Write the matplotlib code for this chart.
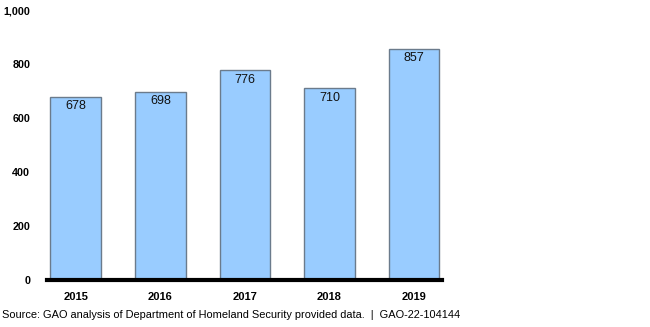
import matplotlib
matplotlib.use("Agg")
import matplotlib.pyplot as plt

years = ["2015", "2016", "2017", "2018", "2019"]
counts = [678, 698, 776, 710, 857]
yticks = [0, 200, 400, 600, 800, 1000]
ytick_labels = ["0", "200", "400", "600", "800", "1,000"]
source = "Source: GAO analysis of Department of Homeland Security provided data.  |  GAO-22-104144"

plt.rcParams['font.family'] = ['Liberation Sans', 'DejaVu Sans']

fig = plt.figure(figsize=(6.5, 3.27), dpi=100)
ax = fig.add_axes([47/650, 47/327, 395/650, 270/327])

x = list(range(len(years)))
bars = ax.bar(x, counts, width=0.6, color='#99ccff', edgecolor='#6b7b8c', linewidth=1.0, zorder=2)
for xi, v in zip(x, counts):
    ax.text(xi, v - 12, str(v), ha='center', va='top', fontsize=9, color='#111111', zorder=3)

ax.set_xlim(-0.34, 4.33)
ax.set_ylim(0, 1000)
ax.set_yticks(yticks)
ax.set_yticklabels(ytick_labels, fontsize=7.7, fontweight='bold')
ax.set_xticks(x)
ax.set_xticklabels(years, fontsize=8, fontweight='bold')
ax.tick_params(axis='both', length=0)
ax.tick_params(axis='y', pad=12)
ax.tick_params(axis='x', pad=9)
for s in ['top', 'right', 'left']:
    ax.spines[s].set_visible(False)
ax.spines['bottom'].set_linewidth(3)
ax.spines['bottom'].set_color('black')

fig.text(2/650, 1 - 320/327, source, fontsize=7.9, ha='left', va='bottom')

fig.savefig("out.png", dpi=100)
